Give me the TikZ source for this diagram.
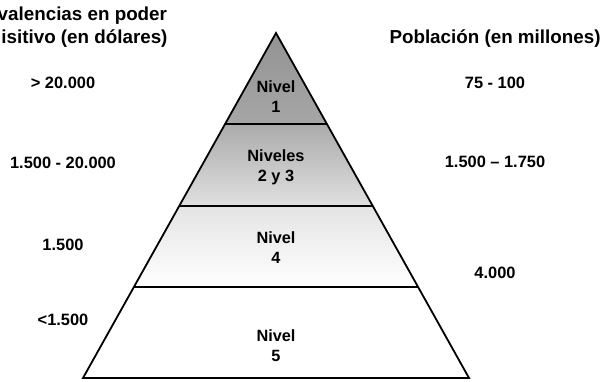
\documentclass[tikz,border=0pt]{standalone}
\usepackage{fontspec}
\setmainfont{Liberation Sans}
\definecolor{cAtop}{HTML}{939393}
\definecolor{cAbot}{HTML}{A6A6A6}
\definecolor{cBtop}{HTML}{ABABAB}
\definecolor{cBbot}{HTML}{E0E0E0}
\definecolor{cCtop}{HTML}{E4E4E4}
\tikzset{
  valtext/.style={font=\bfseries\fontsize{16.4}{20}\selectfont, inner sep=0pt, anchor=base},
  headtext/.style={font=\bfseries\fontsize{18.8}{23}\selectfont, inner sep=0pt, align=center},
  lvltext/.style={font=\bfseries\fontsize{16.3}{20}\selectfont, inner sep=0pt, align=center},
  edge/.style={line width=1.8pt, line join=miter},
  divider/.style={line width=1.8pt}
}
\begin{document}
\begin{tikzpicture}[x=1pt,y=1pt]
\useasboundingbox (0,0) rectangle (603,-381);
\clip (0,0) rectangle (603,-381);
% pyramid coordinates
\coordinate (apex) at (276,-33);
\coordinate (l1) at (225.1,-124); \coordinate (r1) at (326.9,-124);
\coordinate (l2) at (179.2,-206); \coordinate (r2) at (372.8,-206);
\coordinate (l3) at (133.9,-287); \coordinate (r3) at (418.1,-287);
\coordinate (bl) at (83,-378);    \coordinate (br) at (469,-378);
% fills
\shade[top color=cAtop, bottom color=cAbot] (apex) -- (r1) -- (l1) -- cycle;
\shade[top color=cBtop, bottom color=cBbot] (l1) -- (r1) -- (r2) -- (l2) -- cycle;
\shade[top color=cCtop, middle color=white, bottom color=white] (l2) -- (r2) -- (r3) -- (l3) -- cycle;
\fill[white] (l3) -- (r3) -- (br) -- (bl) -- cycle;
% outline and dividers
\draw[edge] (apex) -- (br) -- (bl) -- cycle;
\draw[divider] (l1) -- (r1);
\draw[divider] (l2) -- (r2);
\draw[divider] (l3) -- (r3);
% level labels
\node[lvltext] (n1) at (276,-97) {Nivel\\1};
\node[lvltext] (n23) at (276,-167.5) {Niveles\\2 y 3};
\node[lvltext] (n4) at (276,-248) {Nivel\\4};
\node[lvltext] (n5) at (276,-346) {Nivel\\5};
% headers
\node[headtext] (hl) at (62,-26.8) {Equivalencias en poder\\adquisitivo (en dólares)};
\node[headtext, anchor=base] (hr) at (495,-43) {Población (en millones)};
% left values
\node[valtext] (v1) at (63,-88) {> 20.000};
\node[valtext] (v2) at (63,-168) {1.500 - 20.000};
\node[valtext] (v3) at (63,-250) {1.500};
\node[valtext] (v4) at (63,-325) {<1.500};
% right values
\node[valtext] (p1) at (495,-88) {75 - 100};
\node[valtext] (p2) at (495,-167) {1.500 – 1.750};
\node[valtext] (p3) at (495,-278) {4.000};
\end{tikzpicture}
\end{document}
